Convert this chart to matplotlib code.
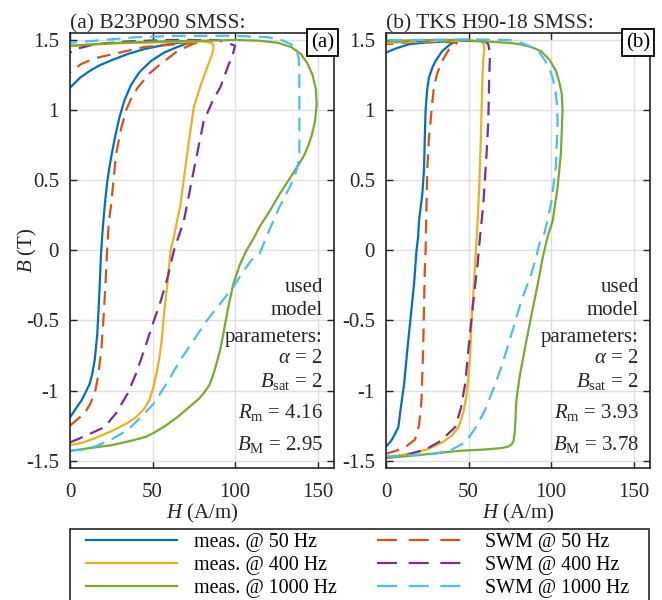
import matplotlib
matplotlib.use("Agg")
import matplotlib.pyplot as plt
from matplotlib.lines import Line2D
from matplotlib.patches import Rectangle

plt.rcParams['font.family'] = ['Liberation Serif', 'DejaVu Serif']
plt.rcParams['mathtext.fontset'] = 'custom'
plt.rcParams['mathtext.rm'] = 'Liberation Serif'
plt.rcParams['mathtext.it'] = 'Liberation Serif:italic'
plt.rcParams['axes.unicode_minus'] = False

'''
B-H half loops (H >= 0), measured vs. SWM model, two SMSS grades
each curve: ascending branch from (0,-Br) to the tip, then back to (0,Br)
'''
# ---- (a) B23P090 ----
a_meas50_H = [0, 4, 7, 10, 12, 13.5, 15, 16.5, 17.2, 18, 18.7, 19.5, 20.3, 21.3, 22.5, 24, 25.5, 27.5, 30, 33, 37, 42, 49, 57, 65, 72, 77,
              70, 62, 55, 45, 35, 25, 18, 12, 6, 0]
a_meas50_B = [-1.19, -1.12, -1.07, -1.0, -0.95, -0.88, -0.78, -0.6, -0.45, -0.25, -0.05, 0.1, 0.22, 0.35, 0.48, 0.6, 0.7, 0.82, 0.95, 1.07, 1.18, 1.27, 1.35, 1.41, 1.45, 1.48, 1.49,
              1.485, 1.475, 1.46, 1.435, 1.40, 1.355, 1.32, 1.28, 1.23, 1.16]
a_swm50_H = [0, 4, 9, 12, 15, 17, 19, 20.5, 21.5, 22.5, 23.5, 25, 26.5, 28, 31, 34, 37, 41, 48, 55, 65, 74, 79,
             70, 55, 45, 30, 15, 7, 0]
a_swm50_B = [-1.25, -1.21, -1.16, -1.10, -1.02, -0.9, -0.71, -0.45, -0.24, 0.0, 0.2, 0.33, 0.52, 0.69, 0.87, 1.0, 1.08, 1.16, 1.26, 1.33, 1.42, 1.47, 1.49,
             1.475, 1.46, 1.45, 1.41, 1.37, 1.33, 1.27]
a_meas400_H = [0, 8, 15, 25, 35, 40, 45, 48, 50.5, 52.5, 54, 55.5, 57, 59, 61, 63, 67, 71, 75, 79, 83, 85.5, 86.8, 87, 86,
               80, 60, 40, 25, 10, 0]
a_meas400_B = [-1.39, -1.37, -1.34, -1.29, -1.23, -1.19, -1.13, -1.07, -0.98, -0.87, -0.78, -0.65, -0.45, -0.24, 0.0, 0.1, 0.33, 0.69, 1.02, 1.17, 1.30, 1.38, 1.43, 1.46, 1.48,
               1.49, 1.485, 1.48, 1.475, 1.465, 1.455]
a_swm400_H = [0, 10, 21, 28, 35, 40, 45, 50, 55, 59, 61, 63, 69, 75, 81, 87, 91, 96, 99, 100,
              90, 60, 35, 15, 5, 0]
a_swm400_B = [-1.37, -1.32, -1.26, -1.16, -1.02, -0.88, -0.71, -0.53, -0.36, -0.2, -0.1, 0.0, 0.21, 0.57, 0.92, 1.08, 1.16, 1.32, 1.41, 1.46,
              1.5, 1.5, 1.49, 1.47, 1.44, 1.41]
a_meas1k_H = [0, 12, 25, 38, 46, 51, 58, 65, 73, 78, 81, 84.5, 87, 89, 91, 93, 96, 99, 103, 107, 111, 115, 121, 127, 133, 139, 142, 144.5, 146.5, 148.5, 149.5, 149, 147, 144, 140, 134, 126, 115,
              100, 80, 55, 30, 15, 0]
a_meas1k_B = [-1.43, -1.41, -1.39, -1.355, -1.33, -1.30, -1.25, -1.19, -1.11, -1.06, -1.02, -0.96, -0.88, -0.8, -0.71, -0.59, -0.4, -0.24, -0.1, 0.0, 0.08, 0.17, 0.28, 0.40, 0.51, 0.62, 0.68, 0.75, 0.82, 0.92, 1.04, 1.15, 1.25, 1.33, 1.40, 1.45, 1.48, 1.495,
              1.50, 1.495, 1.49, 1.48, 1.47, 1.46]
a_swm1k_H = [0, 8, 15, 25, 35, 43, 51, 59, 67, 75, 83, 91, 99, 105, 110, 115, 121, 127, 131, 134, 136.5, 138.3, 139, 139, 139, 138.5, 137, 134, 128, 120,
             100, 65, 40, 20, 0]
a_swm1k_B = [-1.43, -1.42, -1.40, -1.35, -1.28, -1.19, -1.09, -0.94, -0.78, -0.64, -0.50, -0.38, -0.26, -0.15, -0.07, -0.02, 0.15, 0.31, 0.4, 0.47, 0.54, 0.62, 0.69, 1.04, 1.30, 1.38, 1.43, 1.47, 1.50, 1.52,
             1.53, 1.53, 1.52, 1.50, 1.48]

# ---- (b) TKS H90-18 ----
b_meas50_H = [0, 3, 5, 7.5, 9, 11, 13, 15, 17, 18.5, 19.5, 20, 22, 23, 23.5, 24, 25, 26, 28, 30, 34, 39, 43,
              36, 30, 22, 14, 6, 0]
b_meas50_B = [-1.40, -1.36, -1.32, -1.26, -1.12, -0.95, -0.7, -0.47, -0.24, 0.0, 0.1, 0.21, 0.4, 0.57, 0.8, 1.0, 1.15, 1.23, 1.30, 1.35, 1.42, 1.47, 1.49,
              1.49, 1.485, 1.48, 1.47, 1.44, 1.41]
b_swm50_H = [0, 6, 12, 17.5, 20, 21.5, 22.5, 23.5, 24, 24.5, 25, 26, 27, 28, 29, 31, 34, 38, 43,
             30, 10, 0]
b_swm50_B = [-1.45, -1.43, -1.40, -1.35, -1.25, -1.07, -0.71, -0.14, 0.0, 0.3, 0.57, 0.8, 0.92, 1.05, 1.16, 1.26, 1.35, 1.43, 1.48,
             1.49, 1.48, 1.47]
b_meas400_H = [0, 14, 25, 34, 40, 44, 47, 49, 51, 52, 53.5, 54.5, 55.5, 56.5, 57.5, 58, 58.5, 59, 59.6, 59.4, 58,
               40, 20, 0]
b_meas400_B = [-1.48, -1.45, -1.42, -1.37, -1.32, -1.26, -1.15, -1.02, -0.75, -0.47, -0.2, 0.0, 0.2, 0.45, 0.8, 1.04, 1.25, 1.37, 1.43, 1.47, 1.49,
               1.495, 1.49, 1.48]
b_swm400_H = [0, 12, 24, 33, 42, 45.5, 48, 50, 52, 54, 55.5, 57, 59, 61, 62, 62.5, 63, 62, 60,
              40, 20, 0]
b_swm400_B = [-1.48, -1.46, -1.42, -1.36, -1.26, -1.12, -0.95, -0.7, -0.47, -0.25, -0.1, 0.1, 0.33, 0.7, 0.92, 1.2, 1.40, 1.47, 1.49,
              1.5, 1.495, 1.49]
b_meas1k_H = [0, 20, 44, 60, 70, 74, 76, 77.3, 78, 78.5, 79, 81, 84, 88, 92, 95, 96, 98, 101, 104, 106, 107, 106.5, 105, 103, 99, 94, 88, 81, 74, 60,
              45, 20, 0]
b_meas1k_B = [-1.48, -1.46, -1.43, -1.42, -1.41, -1.40, -1.385, -1.36, -1.3, -1.2, -1.07, -0.9, -0.71, -0.47, -0.24, -0.05, 0.0, 0.1, 0.21, 0.45, 0.69, 1.0, 1.12, 1.2, 1.28, 1.36, 1.42, 1.45, 1.47, 1.48, 1.49,
              1.5, 1.5, 1.49]
b_swm1k_H = [0, 15, 30, 40, 48, 54, 60, 65, 70, 76, 82, 88, 91, 93, 96, 100, 103, 104, 103.5, 102.5, 101, 99, 96, 93, 88, 82, 75,
             50, 25, 0]
b_swm1k_B = [-1.47, -1.46, -1.45, -1.42, -1.37, -1.27, -1.14, -0.99, -0.83, -0.6, -0.36, -0.17, -0.05, 0.05, 0.12, 0.33, 0.6, 0.92, 1.06, 1.15, 1.23, 1.30, 1.36, 1.41, 1.45, 1.48, 1.5,
             1.505, 1.5, 1.5]

titles = ['(a) B23P090 SMSS:', '(b) TKS H90-18 SMSS:']
tags = ['(a)', '(b)']
Rm = [4.16, 3.93]
BM = [2.95, 3.78]
alpha = 2
Bsat = 2

xticks = [0, 50, 100, 150]
yticks = [-1.5, -1, -0.5, 0, 0.5, 1, 1.5]
yticklabels = ['-1.5', '-1', '-0.5', '0', '0.5', '1', '1.5']

labels = ['meas. @ 50 Hz', 'meas. @ 400 Hz', 'meas. @ 1000 Hz',
          'SWM @ 50 Hz', 'SWM @ 400 Hz', 'SWM @ 1000 Hz']
colors = ['#0072BD', '#EDB120', '#77AC30', '#D95319', '#7E2F8E', '#4DBEEE']

panels = [
    [(a_meas50_H, a_meas50_B), (a_meas400_H, a_meas400_B), (a_meas1k_H, a_meas1k_B),
     (a_swm50_H, a_swm50_B), (a_swm400_H, a_swm400_B), (a_swm1k_H, a_swm1k_B)],
    [(b_meas50_H, b_meas50_B), (b_meas400_H, b_meas400_B), (b_meas1k_H, b_meas1k_B),
     (b_swm50_H, b_swm50_B), (b_swm400_H, b_swm400_B), (b_swm1k_H, b_swm1k_B)],
]

fs = 15
lw = 1.6
dark = '#262626'
fig = plt.figure(figsize=(6.62, 6.0), dpi=100)
lefts = [70 / 662, 386 / 662]
axes = []
for k in range(2):
    ax = fig.add_axes([lefts[k], 1 - 467.7 / 600, 264 / 662, (467.7 - 33) / 600])
    axes.append(ax)
    for i in [0, 3, 1, 4, 2, 5]:
        H, B = panels[k][i]
        if i < 3:
            ax.plot(H, B, color=colors[i], lw=lw)
        else:
            ax.plot(H, B, color=colors[i], lw=lw, dashes=(6.2, 3.6))
    ax.set_xlim(0, 160)
    ax.set_ylim(-1.55, 1.55)
    ax.set_xticks(xticks)
    ax.set_xticklabels([str(t) for t in xticks])
    ax.set_yticks(yticks)
    ax.set_yticklabels(yticklabels)
    ax.grid(True, color='#dfdfdf', lw=1.0)
    ax.set_axisbelow(True)
    ax.tick_params(direction='in', top=True, right=True, length=5, width=1.0,
                   labelsize=fs, color=dark, labelcolor=dark)
    ax.tick_params(axis='x', pad=11)
    ax.tick_params(axis='y', pad=8)
    for s in ax.spines.values():
        s.set_color(dark)
        s.set_linewidth(1.2)
    ax.set_xlabel('$H$ (A/m)', fontsize=fs, labelpad=0, color=dark)
    ax.set_title(titles[k], loc='left', fontsize=15.5, pad=3, color=dark)
    ax.text(1.0, 1.0, tags[k], transform=ax.transAxes, ha='right', va='top', fontsize=fs,
            bbox=dict(boxstyle='square,pad=0.2', fc='white', ec='black', lw=1.3), zorder=10)
    lines = ['used', 'model', 'parameters:', r'$\alpha$ = %g' % alpha,
             r'$B_{\mathrm{sat}}$ = %g' % Bsat, r'$R_{\mathrm{m}}$ = %.2f' % Rm[k],
             r'$B_{\mathrm{M}}$ = %.2f' % BM[k]]
    ys = [0.404, 0.351, 0.289, 0.241, 0.186, 0.114, 0.041]
    for t, y in zip(lines, ys):
        ax.text(0.958, y, t, transform=ax.transAxes, ha='right', va='baseline',
                fontsize=fs, color=dark)

axes[0].set_ylabel('$B$ (T)', fontsize=fs, color=dark)
axes[0].yaxis.set_label_coords(-0.118, 0.5)

# legend: frame drawn separately (it runs past the bottom edge, as in the original)
handles = []
for i in range(6):
    if i < 3:
        handles.append(Line2D([], [], color=colors[i], lw=lw))
    else:
        handles.append(Line2D([], [], color=colors[i], lw=lw, dashes=(9, 5.25)))
leg = fig.legend(handles, labels, ncol=2, loc='upper left',
                 bbox_to_anchor=(86 / 662, 1 - 533 / 600), borderaxespad=0, borderpad=0,
                 fontsize=14.4, handlelength=4.55, handletextpad=0.85, columnspacing=2.0,
                 labelspacing=0.2, frameon=False)
frame = Rectangle((70 / 662, -0.05), 579 / 662, 0.05 + (1 - 529 / 600),
                  transform=fig.transFigure, fill=False, ec=dark, lw=1.2, clip_on=False)
fig.add_artist(frame)

fig.savefig('out.png', dpi=100)
